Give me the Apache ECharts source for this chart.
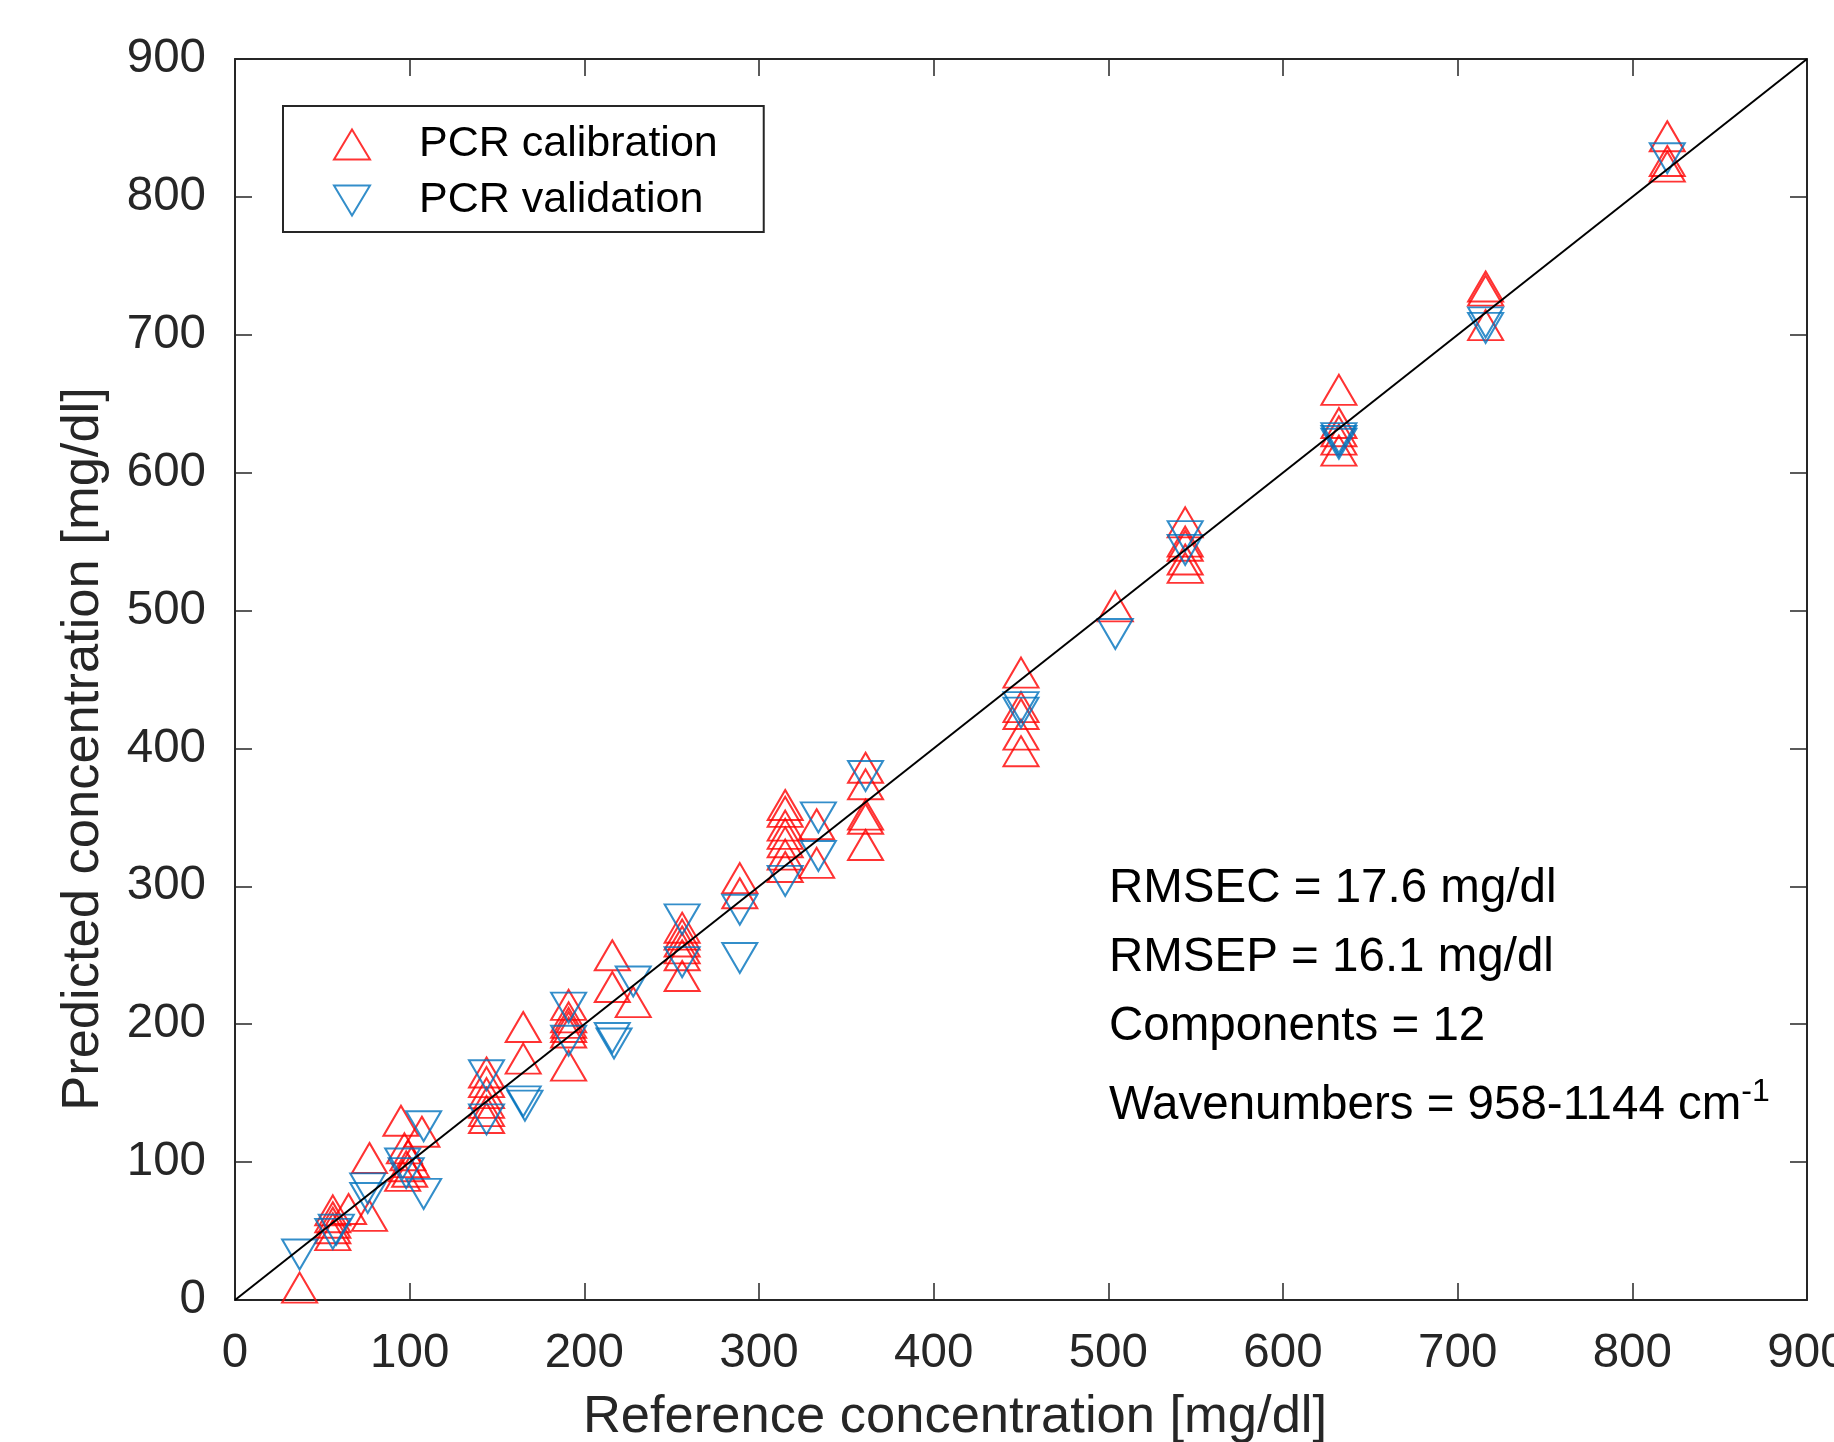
<!DOCTYPE html>
<html>
<head>
<meta charset="utf-8">
<script src="https://cdn.jsdelivr.net/npm/echarts@6/dist/echarts.min.js"></script>
<style>
html,body{margin:0;padding:0;background:#fff;}
#chart{width:1834px;height:1442px;}
</style>
</head>
<body>
<div id="chart"></div>
<script>
// ---- data ----
const calibRef = [37, 56,56,56,56,56, 65, 77,77, 95,97,99,101,98,100,96, 107, 144,144,144,144,144,144, 165,165, 191,191,191,191,191,191, 216,216, 228, 256,256,256,256,256,256, 289,289, 315,315,315,315,315,315,315, 333,333, 361,361,361,361,361, 450,450,450,450,450, 504, 544,544,544,544,544, 632,632,632,632,632, 716,716,716, 820,820,820];
const calibPred = [9, 65,60,56,52,47, 66, 103,61, 130,110,105,100,97,93,90, 122, 165,158,150,143,137,132, 198,175, 214,205,201,198,194,170, 250,227, 216, 270,265,260,255,250,235, 306,295, 359,354,344,338,332,323,314, 345,317, 386,374,352,349,330, 455,430,425,410,398, 503, 564,550,547,537,531, 660,636,630,624,616, 735,732,707, 844,826,822];
const validRef = [37, 56,58, 76,76, 96,98, 108,108, 144,144, 165,166, 191,191, 216,217, 228, 256,256, 289,289, 315, 334,334, 361, 450,450, 504, 544,544, 632,632,632, 716,716, 820];
const validPred = [33, 48,51, 81,74, 99,92, 126,77, 163,131, 144,141, 212,188, 190,186, 231, 276,245, 283,248, 304, 350,322, 380, 430,426, 483, 554,544, 625,623,621, 709,705, 828];
const lineRef = [0, 900];
const linePred = [0, 900];
const seriesNames = ['PCR calibration', 'PCR validation'];
const xTitle = 'Reference concentration [mg/dl]';
const yTitle = 'Predicted concentration [mg/dl]';
const notes = ['RMSEC = 17.6 mg/dl', 'RMSEP = 16.1 mg/dl', 'Components = 12'];
const waveText = 'Wavenumbers = 958-1144 cm';
const waveSup = '-1';

const zip = (a, b) => a.map((v, i) => [v, b[i]]);
const FONT = '"Liberation Sans", Arial, Helvetica, sans-serif';
const AX = '#262626';
const DOWN_TRI = 'path://M0,0 L20,0 L10,20 Z';

const chart = echarts.init(document.getElementById('chart'), null, {renderer: 'canvas'});

function axisCommon(pos, showLabel) {
  const isX = (pos === 'bottom' || pos === 'top');
  return {
    type: 'value', position: pos, min: 0, max: 900, interval: 100,
    splitLine: {show: false},
    axisLine: {show: true, onZero: false, lineStyle: {color: AX, width: 2}},
    axisTick: {show: true, inside: true, length: 17, lineStyle: {color: AX, width: 1.5}},
    axisLabel: {show: showLabel, color: AX, fontFamily: FONT, fontSize: 47.5,
      margin: isX ? 30 : 29, padding: isX ? 0 : [7, 0, 0, 0],
      showMinLabel: true, showMaxLabel: true, hideOverlap: false}
  };
}

const option = {
  animation: false,
  backgroundColor: '#fff',
  grid: {left: 235, top: 59, right: 27, bottom: 142, containLabel: false, outerBoundsMode: 'none'},
  xAxis: [axisCommon('bottom', true), axisCommon('top', false)],
  yAxis: [axisCommon('left', true), axisCommon('right', false)],
  legend: {
    left: 283, top: 106, orient: 'vertical',
    padding: [17, 46, 10, 50],
    itemGap: 13, itemWidth: 36, itemHeight: 30,
    symbolKeepAspect: false,
    borderColor: AX, borderWidth: 2, backgroundColor: '#fff',
    selectedMode: false,
    itemStyle: {borderWidth: 2},
    formatter: n => '{g| }' + n,
    textStyle: {color: '#000', fontFamily: FONT, fontSize: 43,
      rich: {g: {width: 44, fontSize: 43}}},
    data: seriesNames
  },
  series: [
    {
      name: seriesNames[0], type: 'scatter', xAxisIndex: 0, yAxisIndex: 0,
      symbol: 'triangle', symbolSize: [35, 30],
      itemStyle: {color: 'rgba(0,0,0,0)', borderColor: '#ff0000', borderWidth: 2},
      data: zip(calibRef, calibPred), z: 2
    },
    {
      name: seriesNames[1], type: 'scatter', xAxisIndex: 0, yAxisIndex: 0,
      symbol: DOWN_TRI, symbolSize: [35, 30], symbolKeepAspect: false,
      itemStyle: {color: 'rgba(0,0,0,0)', borderColor: '#0072BD', borderWidth: 2},
      data: zip(validRef, validPred), z: 3
    },
    {
      name: 'identity', type: 'line', xAxisIndex: 0, yAxisIndex: 0,
      showSymbol: false, symbol: 'none', silent: true,
      lineStyle: {color: '#000', width: 2},
      data: zip(lineRef, linePred), z: 4
    }
  ],
  graphic: [
    {type: 'text', x: 955, y: 1418, z: 10,
      style: {text: xTitle, font: '52.5px ' + FONT, fill: AX, align: 'center', verticalAlign: 'middle'}},
    {type: 'text', x: 84, y: 749, rotation: Math.PI / 2, z: 10,
      style: {text: yTitle, font: '52.5px ' + FONT, fill: AX, align: 'center', verticalAlign: 'middle'}},
    {type: 'text', x: 1109, y: 889, z: 10,
      style: {text: notes[0], font: '47.5px ' + FONT, fill: '#000', align: 'left', verticalAlign: 'middle'}},
    {type: 'text', x: 1109, y: 958, z: 10,
      style: {text: notes[1], font: '47.5px ' + FONT, fill: '#000', align: 'left', verticalAlign: 'middle'}},
    {type: 'text', x: 1109, y: 1027, z: 10,
      style: {text: notes[2], font: '47.5px ' + FONT, fill: '#000', align: 'left', verticalAlign: 'middle'}},
    {type: 'text', x: 1109, y: 1106, z: 10,
      style: {text: '{n|' + waveText + '}{s|' + waveSup + '}', align: 'left', verticalAlign: 'middle',
        rich: {
          n: {fontFamily: FONT, fontSize: 47.5, lineHeight: 60, fill: '#000', color: '#000'},
          s: {fontFamily: FONT, fontSize: 32, lineHeight: 30, verticalAlign: 'top', fill: '#000', color: '#000'}
        }}}
  ]
};
chart.setOption(option);
</script>
</body>
</html>
